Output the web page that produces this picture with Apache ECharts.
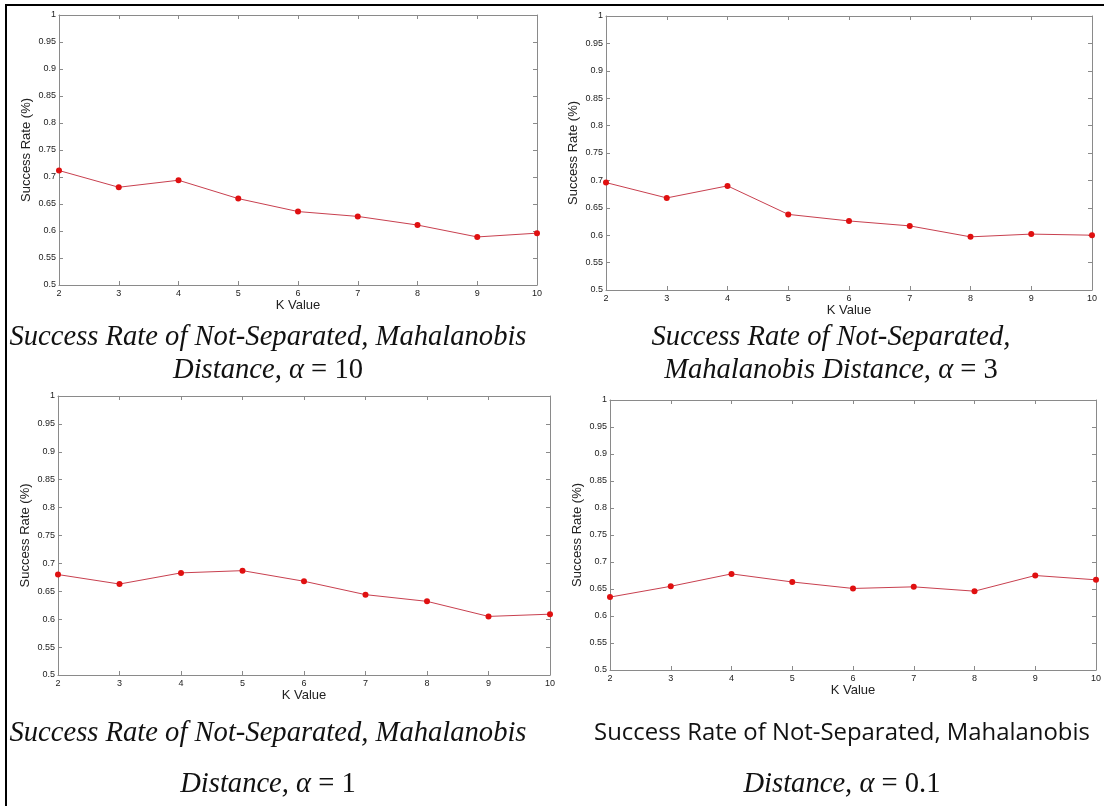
<!DOCTYPE html>
<html>
<head>
<meta charset="utf-8">
<script src="https://cdn.jsdelivr.net/npm/echarts@6/dist/echarts.min.js"></script>
<style>
  html, body { margin: 0; padding: 0; background: #fff; }
  #chart { width: 1107px; height: 806px; }
</style>
</head>
<body>
<div id="chart"></div>
<script>
// ---- data ----
const kValues = [2, 3, 4, 5, 6, 7, 8, 9, 10];
const rateAlpha10 = [0.712, 0.681, 0.694, 0.660, 0.636, 0.627, 0.611, 0.589, 0.596];
const rateAlpha3  = [0.696, 0.668, 0.690, 0.638, 0.626, 0.617, 0.597, 0.602, 0.600];
const rateAlpha1  = [0.680, 0.663, 0.683, 0.687, 0.668, 0.644, 0.632, 0.605, 0.609];
const rateAlpha01 = [0.635, 0.655, 0.678, 0.663, 0.651, 0.654, 0.646, 0.675, 0.667];
const xAxisName = 'K Value';
const yAxisName = 'Success Rate (%)';
const captionLine1 = [
  'Success Rate of Not-Separated, Mahalanobis',
  'Success Rate of Not-Separated,',
  'Success Rate of Not-Separated, Mahalanobis',
  'Success Rate of Not-Separated, Mahalanobis'
];
const captionLine2Prefix = ['Distance, ', 'Mahalanobis Distance, ', 'Distance, ', 'Distance, '];
const alphaLabels = ['10', '3', '1', '0.1'];

// ---- layout ----
const panels = [
  { data: rateAlpha10, left: 59,  top: 15,  right: 537,  bottom: 285, cx: 268, cy1: 337, cy2: 370, sans: false },
  { data: rateAlpha3,  left: 606, top: 16,  right: 1092, bottom: 290, cx: 831, cy1: 337, cy2: 370, sans: false },
  { data: rateAlpha1,  left: 58,  top: 396, right: 550,  bottom: 675, cx: 268, cy1: 733, cy2: 784, sans: false },
  { data: rateAlpha01, left: 610, top: 400, right: 1096, bottom: 670, cx: 842, cy1: 733, cy2: 784, sans: true }
];

const axisGrey = '#8a8a8a';
const labelColor = '#222';

// font size fit
const cv = document.createElement('canvas').getContext('2d');
function fitSize(text, font, target) {
  cv.font = '100px ' + font;
  return 100 * target / cv.measureText(text).width;
}
const serifFont = '"Liberation Serif", "Times New Roman", serif';
const sansFont = '"Open Sans", "Noto Sans", sans-serif';
cv.font = 'italic 100px ' + serifFont;
const serifSize = Math.round(100 * 517 / cv.measureText(captionLine1[0]).width * 10) / 10;
cv.font = '100px ' + sansFont;
const sansSize = Math.round(100 * 497 / cv.measureText(captionLine1[3]).width * 10) / 10;

const grids = [], xAxes = [], yAxes = [], series = [], graphics = [];

panels.forEach((p, i) => {
  grids.push({ left: p.left, top: p.top, width: p.right - p.left, height: p.bottom - p.top, containLabel: false });
  const common = {
    gridIndex: i,
    axisLine: { show: true, onZero: false, lineStyle: { color: axisGrey, width: 1 } },
    axisTick: { show: true, inside: true, length: 4, lineStyle: { color: axisGrey } },
    splitLine: { show: false }
  };
  xAxes.push(Object.assign({}, common, {
    type: 'value', position: 'bottom', min: 2, max: 10, interval: 1,
    axisLabel: { color: labelColor, fontSize: 9, fontFamily: 'Liberation Sans, Arial', margin: 4 },
    name: xAxisName, nameLocation: 'middle', nameGap: 13,
    nameTextStyle: { color: labelColor, fontSize: 13, fontFamily: 'Liberation Sans, Arial', verticalAlign: 'top' }
  }));
  xAxes.push(Object.assign({}, common, {
    type: 'value', position: 'top', min: 2, max: 10, interval: 1,
    axisLabel: { show: false }
  }));
  yAxes.push(Object.assign({}, common, {
    type: 'value', position: 'left', min: 0.5, max: 1, interval: 0.05,
    axisLabel: { color: labelColor, fontSize: 9, fontFamily: 'Liberation Sans, Arial', margin: 3 },
    name: yAxisName, nameLocation: 'middle', nameGap: 26, nameRotate: 90,
    nameTextStyle: { color: labelColor, fontSize: 13, fontFamily: 'Liberation Sans, Arial' }
  }));
  yAxes.push(Object.assign({}, common, {
    type: 'value', position: 'right', min: 0.5, max: 1, interval: 0.05,
    axisLabel: { show: false }
  }));
  series.push({
    type: 'line',
    xAxisIndex: 2 * i, yAxisIndex: 2 * i,
    data: kValues.map((k, j) => [k, p.data[j]]),
    symbol: 'circle', symbolSize: 6,
    lineStyle: { color: '#c8404f', width: 1 },
    itemStyle: { color: '#e01010' },
    silent: true, animation: false
  });

  // captions
  if (p.sans) {
    graphics.push({ type: 'text', x: p.cx, y: p.cy1, style: {
      text: captionLine1[i], font: sansSize + 'px ' + sansFont, fill: '#111',
      textAlign: 'center', textVerticalAlign: 'middle' } });
  } else {
    graphics.push({ type: 'text', x: p.cx, y: p.cy1, style: {
      text: captionLine1[i], font: 'italic ' + serifSize + 'px ' + serifFont, fill: '#111',
      textAlign: 'center', textVerticalAlign: 'middle' } });
  }
  graphics.push({ type: 'text', x: p.cx, y: p.cy2, style: {
    text: '{i|' + captionLine2Prefix[i] + 'α}{u| = ' + alphaLabels[i] + '}',
    textAlign: 'center', textVerticalAlign: 'middle',
    rich: {
      i: { font: 'italic ' + serifSize + 'px ' + serifFont, fill: '#111' },
      u: { font: serifSize + 'px ' + serifFont, fill: '#111' }
    } } });
});

// frame lines
graphics.push({ type: 'line', shape: { x1: 5, y1: 5, x2: 1104, y2: 5 }, style: { stroke: '#000', lineWidth: 2 } });
graphics.push({ type: 'line', shape: { x1: 6, y1: 4, x2: 6, y2: 806 }, style: { stroke: '#000', lineWidth: 2 } });

const chart = echarts.init(document.getElementById('chart'), null, { renderer: 'canvas' });
chart.setOption({
  backgroundColor: '#fff',
  animation: false,
  grid: grids,
  xAxis: xAxes,
  yAxis: yAxes,
  series: series,
  graphic: graphics
});
</script>
</body>
</html>
